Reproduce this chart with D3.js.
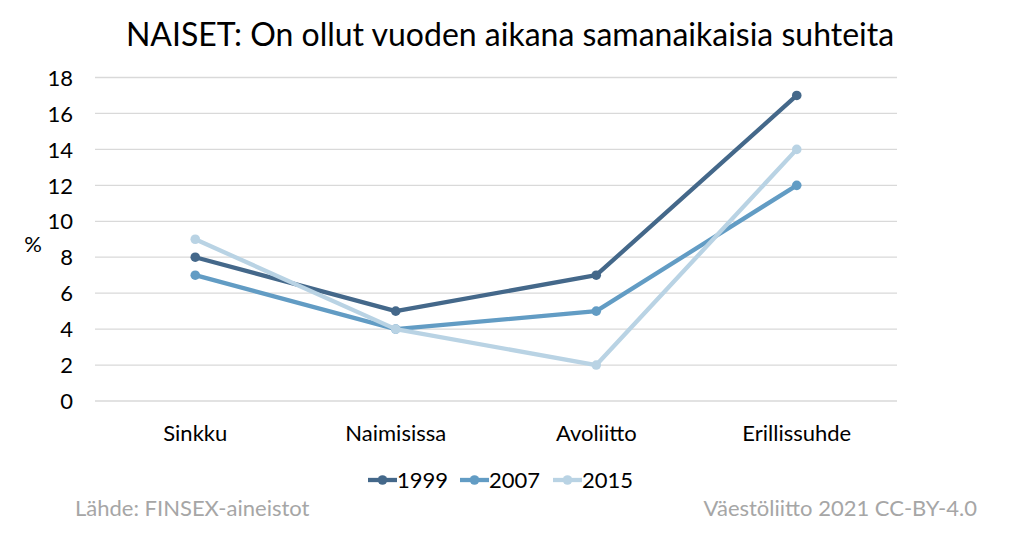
<!DOCTYPE html>
<html><head><meta charset="utf-8">
<script src="https://cdn.jsdelivr.net/npm/d3@7"></script>
<style>body{margin:0;background:#fff}svg{display:block}</style>
</head><body>
<svg id="c" width="1024" height="546"></svg>
<script>
const categories = ["Sinkku", "Naimisissa", "Avoliitto", "Erillissuhde"];
const years = ["1999", "2007", "2015"];
const v1999 = [8, 5, 7, 17];
const v2007 = [7, 4, 5, 12];
const v2015 = [9, 4, 2, 14];
const yTicks = [0, 2, 4, 6, 8, 10, 12, 14, 16, 18];
const colors = ["#44688A", "#629CC4", "#B9D3E4"];
const seriesVals = [v1999, v2007, v2015];

(function () {
const font = "Lato, 'Open Sans', sans-serif";
const fs = 22;
const svg = d3.select("#c");
const pLeft = 95, pRight = 897, pTop = 77.5, pBottom = 401;

const x = d3.scaleBand().domain(categories).range([pLeft, pRight]);
const y = d3.scaleLinear().domain([0, 18]).range([pBottom, pTop]);

// gridlines
svg.append("g").selectAll("line").data(yTicks).join("line")
  .attr("x1", pLeft).attr("x2", pRight)
  .attr("y1", d => y(d)).attr("y2", d => y(d))
  .attr("stroke", "#D9D9D9").attr("stroke-width", 1.3);

// y axis labels
const yAxis = d3.axisLeft(y).tickValues(yTicks).tickSize(0).tickPadding(0);
const ga = svg.append("g").attr("transform", `translate(${pLeft - 22},0)`).call(yAxis);
ga.select(".domain").remove();
ga.selectAll("text").attr("font-family", font).attr("font-size", fs).attr("fill", "#000").attr("dy", "0.35em");

svg.append("text").attr("x", 33).attr("y", 243).attr("text-anchor", "middle")
  .attr("dominant-baseline", "central")
  .attr("font-family", font).attr("font-size", fs).text("%");

// x axis labels
const xAxis = d3.axisBottom(x).tickSize(0).tickPadding(0);
const gx = svg.append("g").attr("transform", `translate(0,${pBottom + 25})`).call(xAxis);
gx.select(".domain").remove();
gx.selectAll("text").attr("font-family", font).attr("font-size", fs).attr("fill", "#000").attr("dy", "0.7em");

// lines
const line = d3.line().x((d, i) => x(categories[i]) + x.bandwidth() / 2).y(d => y(d));
years.forEach((yr, k) => {
  const vals = seriesVals[k];
  svg.append("path").datum(vals).attr("d", line)
    .attr("fill", "none").attr("stroke", colors[k]).attr("stroke-width", 4.3)
    .attr("stroke-linejoin", "round");
  svg.append("g").selectAll("circle").data(vals).join("circle")
    .attr("cx", (d, i) => x(categories[i]) + x.bandwidth() / 2)
    .attr("cy", d => y(d)).attr("r", 4.8).attr("fill", colors[k]);
});

// title
svg.append("text").attr("x", 510).attr("y", 46).attr("text-anchor", "middle")
  .attr("font-family", font).attr("font-size", 32).attr("fill", "#000")
  .text("NAISET: On ollut vuoden aikana samanaikaisia suhteita");

// legend
const legX = [368, 460, 553];
years.forEach((yr, k) => {
  const g = svg.append("g").attr("transform", `translate(${legX[k]},480)`);
  g.append("line").attr("x1", 0).attr("x2", 29).attr("stroke", colors[k]).attr("stroke-width", 4.3);
  g.append("circle").attr("cx", 14.5).attr("r", 4.8).attr("fill", colors[k]);
  g.append("text").attr("x", 29).attr("dy", "0.35em").attr("font-family", font)
    .attr("font-size", fs).text(yr);
});

// footer
svg.append("text").attr("x", 75).attr("y", 516).attr("font-family", font)
  .attr("font-size", fs).attr("fill", "#A6A6A6").text("Lähde: FINSEX-aineistot");
svg.append("text").attr("x", 977).attr("y", 516).attr("text-anchor", "end").attr("font-family", font)
  .attr("font-size", fs).attr("fill", "#A6A6A6").text("Väestöliitto 2021 CC-BY-4.0");
})();
</script>
</body></html>
